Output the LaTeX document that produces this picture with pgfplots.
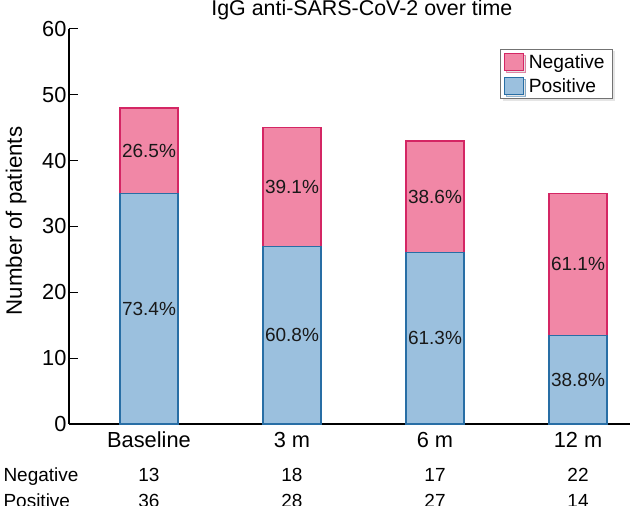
\documentclass[border=0pt]{standalone}
\usepackage{fontspec}
\setmainfont{Liberation Sans}
\usepackage{pgfplots}
\pgfplotsset{compat=1.18}
\usetikzlibrary{shadows}
\definecolor{negfill}{RGB}{241,135,166}
\definecolor{negline}{RGB}{212,38,100}
\definecolor{posfill}{RGB}{155,192,222}
\definecolor{posline}{RGB}{40,110,165}
\pgfplotsset{mylegend/.style={legend image code/.code={\draw[##1] (0pt,-8.5pt) rectangle (19pt,8.5pt);}}}
\newcommand{\tickfnt}{\fontsize{21.8}{22}\selectfont}
\newcommand{\tblfnt}{\fontsize{19}{20}\selectfont}
\begin{document}
\begin{tikzpicture}
\begin{axis}[
  name=ax,
  scale only axis,
  width=561pt, height=395pt,
  xmin=-0.5594, xmax=3.3636,
  ymin=0, ymax=60,
  axis lines*=left,
  axis line style={line width=1.1pt, black},
  clip=false,
  /pgf/number format/assume math mode=true,
  ytick={0,10,...,60},
  ytick align=inside,
  major tick length=9pt,
  ytick style={line width=1pt, black},
  xtick={0,1,2,3},
  xticklabels={Baseline,3 m,6 m,12 m},
  xtick style={draw=none},
  xticklabel style={font=\tickfnt, anchor=base, yshift=-24pt},
  yticklabel style={font=\tickfnt, xshift=1pt},
  ylabel={Number of patients},
  every axis y label/.style={at={(rel axis cs:0,0.514)}, xshift=-53pt, rotate=90, anchor=center, font=\fontsize{22.3}{23}\selectfont},
  title={IgG anti-SARS-CoV-2 over time},
  every axis title/.style={at={(rel axis cs:0.522,1)}, anchor=base, yshift=13pt, font=\fontsize{21.4}{22}\selectfont},
  legend style={at={(rel axis cs:1,1)}, anchor=north east, xshift=-17pt, yshift=-20pt,
    draw=gray!90!black, line width=0.7pt, fill=white,
    drop shadow={shadow xshift=2pt, shadow yshift=-2pt, fill=gray!40},
    font=\fontsize{19.2}{20}\selectfont, inner xsep=3.5pt, inner ysep=3.5pt, row sep=5.5pt,
    nodes={inner xsep=4.5pt, inner ysep=1.5pt}},
  legend cell align=left,
]
% totals (negative on top of positive)
\addplot[ybar, bar width=0.4056, bar shift=0pt, fill=negfill, draw=negline, line width=1.2pt, mylegend]
  coordinates {(0,48) (1,45) (2,43) (3,35)};
\addlegendentry{Negative}
\addplot[ybar, bar width=0.4056, bar shift=0pt, fill=posfill, draw=posline, line width=1.2pt, mylegend]
  coordinates {(0,35) (1,27) (2,26) (3,13.5)};
\addlegendentry{Positive}
% percentage labels centred in each segment
\addplot[only marks, mark=none, forget plot, point meta=explicit symbolic,
  nodes near coords, nodes near coords align=center,
  every node near coord/.append style={font=\tblfnt, text=black!90}]
  coordinates {(0,41.5) [26.5\%] (1,36) [39.1\%] (2,34.5) [38.6\%] (3,24.25) [61.1\%]
               (0,17.5) [73.4\%] (1,13.5) [60.8\%] (2,13) [61.3\%] (3,6.75) [38.8\%]};
% count table below the axis
\node[anchor=base west, font=\tblfnt, xshift=-69pt, yshift=-58pt] at (rel axis cs:0,0) {Negative};
\node[anchor=base west, font=\tblfnt, xshift=-69pt, yshift=-84pt] at (rel axis cs:0,0) {Positive};
\node[anchor=base, font=\tblfnt, yshift=-58pt] at (axis cs:0,0) {13};
\node[anchor=base, font=\tblfnt, yshift=-58pt] at (axis cs:1,0) {18};
\node[anchor=base, font=\tblfnt, yshift=-58pt] at (axis cs:2,0) {17};
\node[anchor=base, font=\tblfnt, yshift=-58pt] at (axis cs:3,0) {22};
\node[anchor=base, font=\tblfnt, yshift=-84pt] at (axis cs:0,0) {36};
\node[anchor=base, font=\tblfnt, yshift=-84pt] at (axis cs:1,0) {28};
\node[anchor=base, font=\tblfnt, yshift=-84pt] at (axis cs:2,0) {27};
\node[anchor=base, font=\tblfnt, yshift=-84pt] at (axis cs:3,0) {14};
\end{axis}
\pgfresetboundingbox
\path[use as bounding box] ([xshift=-69pt,yshift=-82pt]ax.south west) rectangle ([yshift=29pt]ax.north east);
\end{tikzpicture}
\end{document}
